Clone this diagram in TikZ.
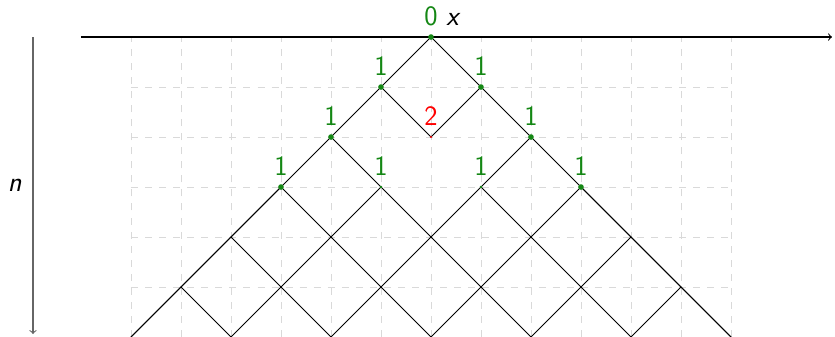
\documentclass[tikz,border=0pt]{standalone}
\usetikzlibrary{positioning}
\definecolor{dotgreen}{RGB}{20,135,20}
\tikzset{
  gridline/.style={draw=black!15,dash pattern=on 4pt off 4pt},
  walk/.style={draw=black,line width=0.5pt},
  axis/.style={->,line width=0.6pt},
  count/.style={font=\sffamily\fontsize{16}{19}\selectfont,text=dotgreen,inner sep=0pt},
  axislabel/.style={font=\sffamily\itshape\fontsize{16}{19}\selectfont,inner sep=0pt}
}
\begin{document}
\begin{tikzpicture}
  \useasboundingbox (-8.62,-5.98) rectangle (8.08,0.74);
  \draw[gridline] (-6,0) grid (6,-6);
  % lattice points
  \foreach \n in {0,...,6}{
    \foreach \k in {0,...,\n}{
      \pgfmathtruncatemacro\xx{2*\k-\n}
      \coordinate (n\n x\xx) at (\xx,-\n);
    }
  }
  % axes
  \coordinate (xstart) at (-7,0);
  \coordinate (xend) at (8.02,0);
  \coordinate (ntop) at (-7.96,0);
  \coordinate (nbot) at (-7.96,-5.94);
  \draw[axis] (xstart) -- (xend);
  \draw[axis,black!60] (ntop) -- (nbot) node[axislabel,text=black,midway,left=0.22cm] (nlab) {n};
  % walks
  \draw[walk] (n6x-6) -- (n0x0) -- (n6x6);
  \draw[walk] (n1x-1) -- (n2x0) -- (n1x1);
  \draw[walk] (n2x-2) -- (n3x-1);
  \draw[walk] (n2x2) -- (n3x1);
  \foreach \n in {3,4,5}{
    \pgfmathtruncatemacro\nb{\n+1}
    \foreach \k in {0,...,\n}{
      \pgfmathtruncatemacro\xx{2*\k-\n}
      \pgfmathtruncatemacro\xl{\xx-1}
      \pgfmathtruncatemacro\xr{\xx+1}
      \draw[walk] (n\nb x\xl) -- (n\n x\xx) -- (n\nb x\xr);
    }
  }
  % dots and counts
  \foreach \p in {n0x0,n1x-1,n1x1,n2x-2,n2x2,n3x-3,n3x3}
    \fill[dotgreen] (\p) circle (1.6pt);
  \foreach \p in {n3x-1,n3x1}
    \fill[dotgreen] (\p) circle (0.8pt);
  \fill[red] (n2x0) circle (0.7pt);
  \node[count,above=0.22cm of n0x0] (c0) {0};
  \node[axislabel,base right=0.16cm of c0] (xlab) {x};
  \foreach \p in {n1x-1,n1x1,n2x-2,n2x2,n3x-3,n3x-1,n3x1,n3x3}
    \node[count,above=0.22cm of \p] (c\p) {1};
  \node[count,text=red,above=0.22cm of n2x0] (c2) {2};
\end{tikzpicture}
\end{document}
